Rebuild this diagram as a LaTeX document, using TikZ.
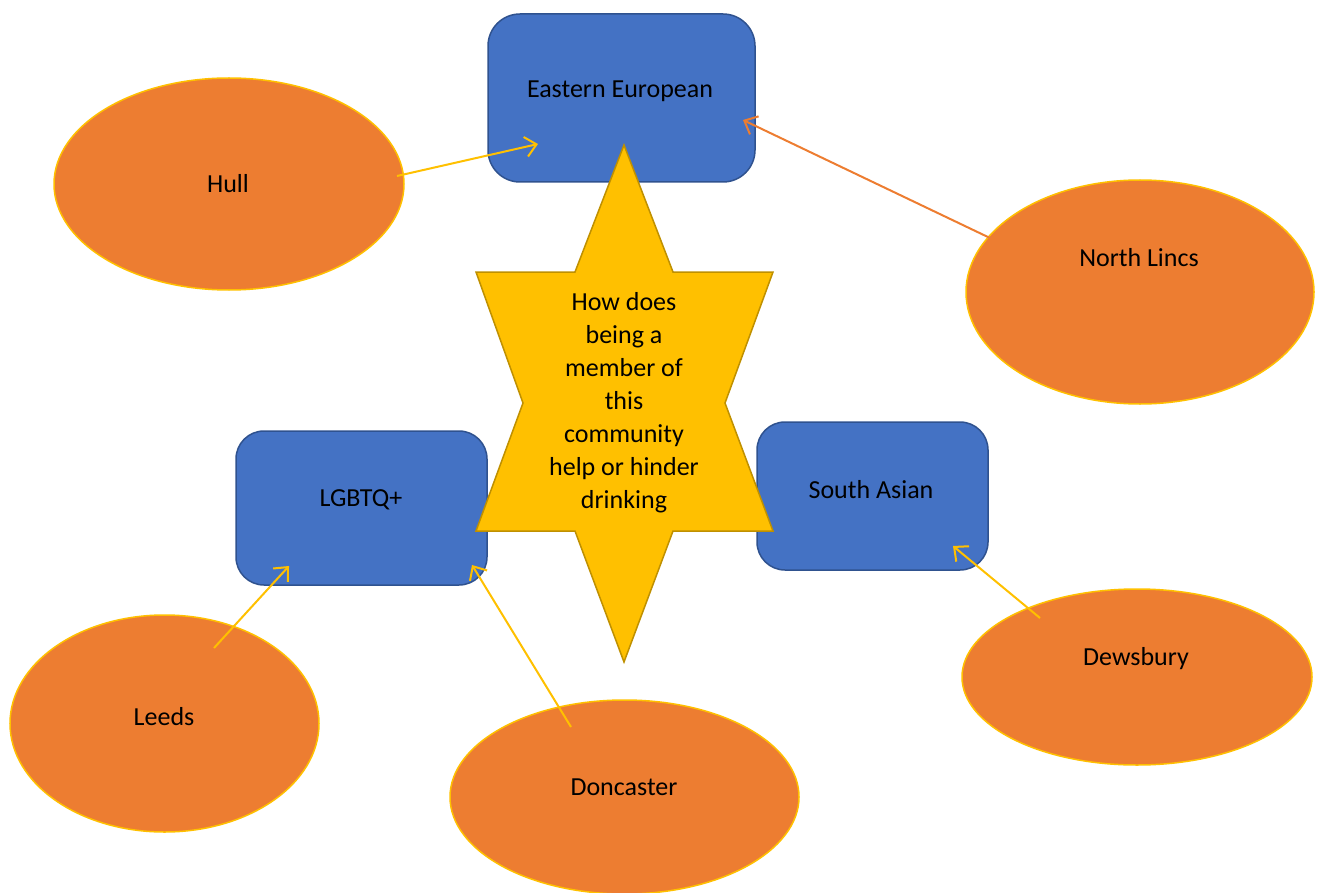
\documentclass[tikz,border=0pt]{standalone}
\usepackage{fontspec}
\setmainfont{Carlito}
\usetikzlibrary{shapes.geometric,arrows.meta,calc}
\definecolor{boxblue}{HTML}{4472C4}
\definecolor{boxedge}{HTML}{2F528F}
\definecolor{cityorange}{HTML}{ED7D31}
\definecolor{gold}{HTML}{FFC000}
\definecolor{golddark}{HTML}{BF9000}
\tikzset{
  groupbox/.style={draw=boxedge, line width=1.5pt, fill=boxblue, rounded corners=32pt, inner sep=0pt},
  city/.style={ellipse, draw=gold, line width=1.5pt, fill=cityorange, inner sep=0pt},
  citytext/.style={font=\fontsize{26}{31}\selectfont},
  link/.style={line width=2pt, -{Straight Barb[length=11pt,width=20pt,line width=2pt]}},
}
\begin{document}
\begin{tikzpicture}[x=1pt,y=-1pt]
\useasboundingbox (0,0) rectangle (1321,893);
% group boxes
\node[groupbox, minimum width=267pt, minimum height=168pt] (ee) at (621.5,98) {};
\node[citytext] (eet) at (620,91) {Eastern European};
\node[groupbox, minimum width=251pt, minimum height=154pt, rounded corners=28pt] (lg) at (361.5,508) {};
\node[citytext] (lgt) at (361,500) {LGBTQ+};
\node[groupbox, minimum width=231pt, minimum height=148pt, rounded corners=28pt] (sa) at (872.5,496) {};
\node[citytext] (sat) at (871,490) {South Asian};
% star
\draw[draw=golddark, line width=1.5pt, fill=gold, line join=miter]
  (624,145) -- (673,272) -- (773,272) -- (725,403) -- (773,531) -- (673,531)
  -- (624,662) -- (575,531) -- (476,531) -- (523,403) -- (476,272) -- (575,272) -- cycle;
\node[align=center, font=\fontsize{26}{33}\selectfont] (q) at (624,403)
  {How does\\being a\\member of\\this\\community\\help or hinder\\drinking};
% cities
\node[city, minimum width=350pt, minimum height=212pt] (hull) at (229,184) {};
\node[citytext] (hullt) at (228,184) {Hull};
\node[city, minimum width=348pt, minimum height=224pt] (nl) at (1140,292) {};
\node[citytext] (nlt) at (1139,258) {North Lincs};
\node[city, minimum width=309pt, minimum height=217pt] (leeds) at (164.5,723.5) {};
\node[citytext] (leedst) at (164,717) {Leeds};
\node[city, minimum width=349pt, minimum height=194pt] (don) at (624.5,797) {};
\node[citytext] (dont) at (624,787) {Doncaster};
\node[city, minimum width=350pt, minimum height=176pt] (dew) at (1137,677) {};
\node[citytext] (dewt) at (1136,659) {Dewsbury};
% arrow end points
\coordinate (hullA) at (397,176);
\coordinate (eeA) at (538,144);
\coordinate (nlA) at (990,238);
\coordinate (eeB) at (743,120);
\coordinate (leedsA) at (214,648);
\coordinate (lgA) at (289,566);
\coordinate (donA) at (571,727);
\coordinate (lgB) at (472,565);
\coordinate (dewA) at (1040,618);
\coordinate (saA) at (953,546);
\draw[link, gold] (hullA) -- (eeA);
\draw[link, cityorange] (nlA) -- (eeB);
\draw[link, gold] (leedsA) -- (lgA);
\draw[link, gold] (donA) -- (lgB);
\draw[link, gold] (dewA) -- (saA);
\end{tikzpicture}
\end{document}
